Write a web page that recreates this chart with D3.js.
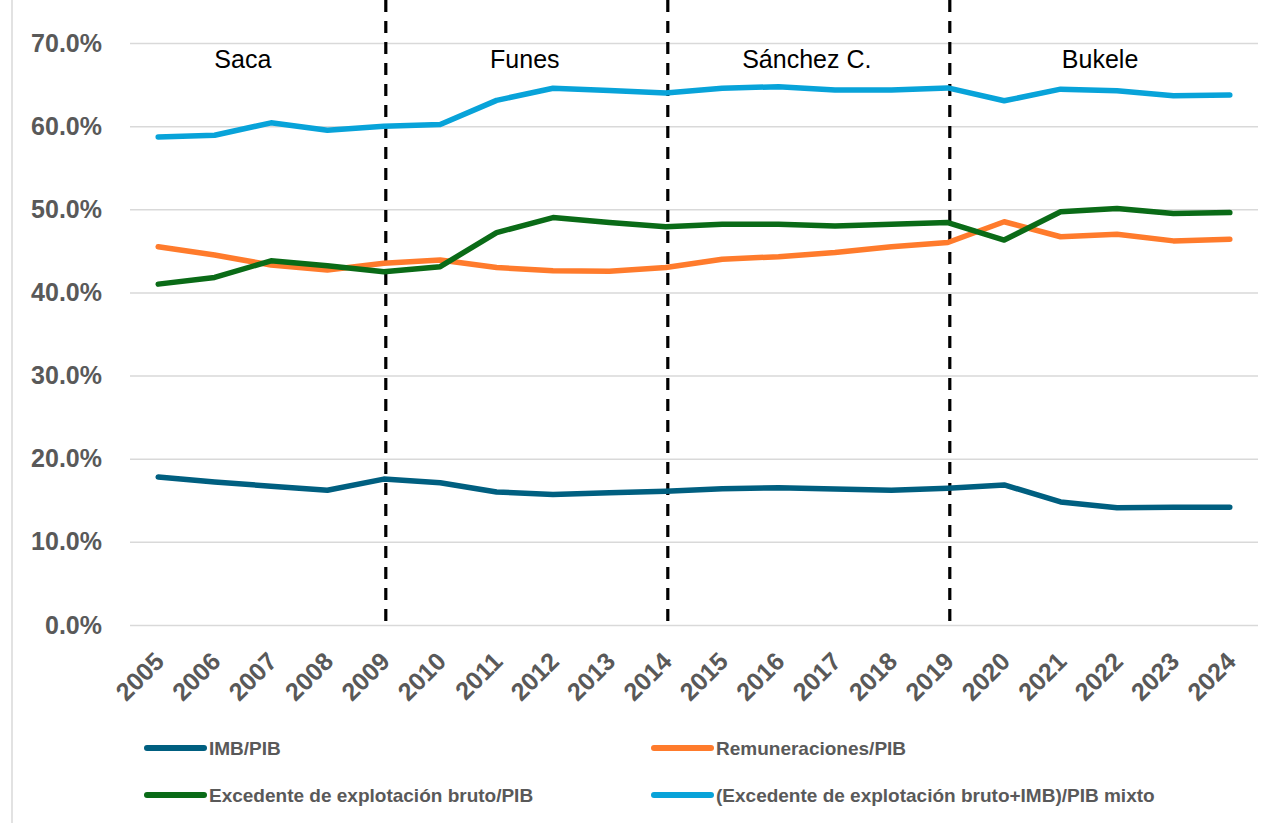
<!DOCTYPE html>
<html>
<head>
<meta charset="utf-8">
<script src="https://cdn.jsdelivr.net/npm/d3@7"></script>
<style>
  body { margin: 0; background: #fff; }
  svg { display: block; font-family: "Liberation Sans", Arial, sans-serif; }
</style>
</head>
<body>
<script>
// datos
var years = [2005, 2006, 2007, 2008, 2009, 2010, 2011, 2012, 2013, 2014,
             2015, 2016, 2017, 2018, 2019, 2020, 2021, 2022, 2023, 2024];
var imb = [17.8, 17.2, 16.7, 16.2, 17.55, 17.1, 16.0, 15.7, 15.9, 16.1,
           16.4, 16.5, 16.35, 16.2, 16.45, 16.85, 14.8, 14.1, 14.15, 14.15];
var remuneraciones = [45.5, 44.5, 43.3, 42.7, 43.5, 43.9, 43.0, 42.6, 42.55, 43.0,
                      44.0, 44.3, 44.8, 45.5, 46.0, 48.5, 46.7, 47.0, 46.2, 46.4];
var excedente = [41.0, 41.8, 43.8, 43.2, 42.5, 43.1, 47.2, 49.0, 48.4, 47.9,
                 48.2, 48.2, 48.0, 48.2, 48.4, 46.3, 49.7, 50.1, 49.5, 49.6];
var mixto = [58.7, 58.9, 60.4, 59.5, 60.0, 60.2, 63.1, 64.55, 64.3, 64.0,
             64.55, 64.75, 64.35, 64.35, 64.6, 63.05, 64.45, 64.25, 63.65, 63.75];
var yTicks = [0, 10, 20, 30, 40, 50, 60, 70];
var seriesNames = ["IMB/PIB", "Remuneraciones/PIB", "Excedente de explotación bruto/PIB",
                   "(Excedente de explotación bruto+IMB)/PIB mixto"];
var seriesColors = ["#005f80", "#ff7b2c", "#0a6b17", "#08a3d9"];
var periodNames = ["Saca", "Funes", "Sánchez C.", "Bukele"];
var periodCenters = [2006.5, 2011.5, 2016.5, 2021.7];
var periodBreaks = [2009, 2014, 2019];

var series = [imb, remuneraciones, excedente, mixto];

// tamaño
var w = 1278, h = 823;
var pLeft = 130, pRight = 1258, pTop = 43, pBottom = 625;

var svg = d3.select("body").append("svg")
  .attr("width", w)
  .attr("height", h);

var x = d3.scalePoint().domain(years).range([pLeft, pRight]).padding(0.5);
var y = d3.scaleLinear().domain([0, 70]).range([pBottom, pTop]);

function xAt(v) {
  var base = Math.floor(v);
  return x(base) + (v - base) * x.step();
}

// borde izquierdo del area
svg.append("line")
  .attr("x1", 12).attr("x2", 12)
  .attr("y1", 0).attr("y2", h)
  .attr("stroke", "#d9d9d9")
  .attr("stroke-width", 1.5);

// grilla y etiquetas del eje y
var yAxis = svg.append("g")
  .attr("transform", "translate(" + pLeft + ",0)")
  .call(d3.axisLeft(y).tickValues(yTicks)
    .tickSize(-(pRight - pLeft))
    .tickPadding(28)
    .tickFormat(function(d) { return d.toFixed(1) + "%"; }));
yAxis.select(".domain").remove();
yAxis.selectAll(".tick line")
  .attr("stroke", "#d9d9d9")
  .attr("stroke-width", 1.5);
yAxis.selectAll(".tick text")
  .attr("fill", "#595959")
  .attr("font-size", "25px")
  .attr("font-weight", "bold");

// etiquetas del eje x
var xAxis = svg.append("g")
  .attr("transform", "translate(0," + pBottom + ")")
  .call(d3.axisBottom(x).tickSize(0).tickPadding(0));
xAxis.select(".domain").remove();
xAxis.selectAll(".tick text")
  .attr("fill", "#595959")
  .attr("font-size", "25px")
  .attr("font-weight", "bold")
  .attr("text-anchor", "end")
  .attr("dy", null)
  .attr("y", null)
  .attr("transform", "translate(7,38) rotate(-45)");

// lineas de periodo
svg.selectAll(".brk")
  .data(periodBreaks)
  .enter().append("line")
  .attr("class", "brk")
  .attr("x1", function(d) { return x(d) + 2; })
  .attr("x2", function(d) { return x(d) + 2; })
  .attr("y1", 0)
  .attr("y2", pBottom + 3)
  .attr("stroke", "#000")
  .attr("stroke-width", 3.2)
  .attr("stroke-dasharray", "12,9");

// nombres de periodo
svg.selectAll(".period")
  .data(periodNames)
  .enter().append("text")
  .attr("class", "period")
  .attr("x", function(d, i) { return xAt(periodCenters[i]); })
  .attr("y", 68)
  .attr("text-anchor", "middle")
  .attr("font-size", "25px")
  .attr("fill", "#000")
  .text(function(d) { return d; });

// series
var line = d3.line()
  .x(function(d, i) { return x(years[i]); })
  .y(function(d) { return y(d); });

svg.selectAll(".serie")
  .data(series)
  .enter().append("path")
  .attr("class", "serie")
  .attr("d", line)
  .attr("fill", "none")
  .attr("stroke", function(d, i) { return seriesColors[i]; })
  .attr("stroke-width", 5.5)
  .attr("stroke-linejoin", "round")
  .attr("stroke-linecap", "round");

// leyenda
var legendX = [147, 654];
var legendY = [748, 795];
var lg = svg.selectAll(".lg")
  .data(seriesNames)
  .enter().append("g")
  .attr("class", "lg")
  .attr("transform", function(d, i) {
    return "translate(" + legendX[i % 2] + "," + legendY[Math.floor(i / 2)] + ")";
  });
lg.append("line")
  .attr("x1", 0).attr("x2", 57)
  .attr("y1", 0).attr("y2", 0)
  .attr("stroke", function(d, i) { return seriesColors[i]; })
  .attr("stroke-width", 6)
  .attr("stroke-linecap", "round");
lg.append("text")
  .attr("x", 62)
  .attr("y", 0)
  .attr("dy", "0.35em")
  .attr("font-size", "19px")
  .attr("font-weight", "bold")
  .attr("fill", "#595959")
  .text(function(d) { return d; });
</script>
</body>
</html>
